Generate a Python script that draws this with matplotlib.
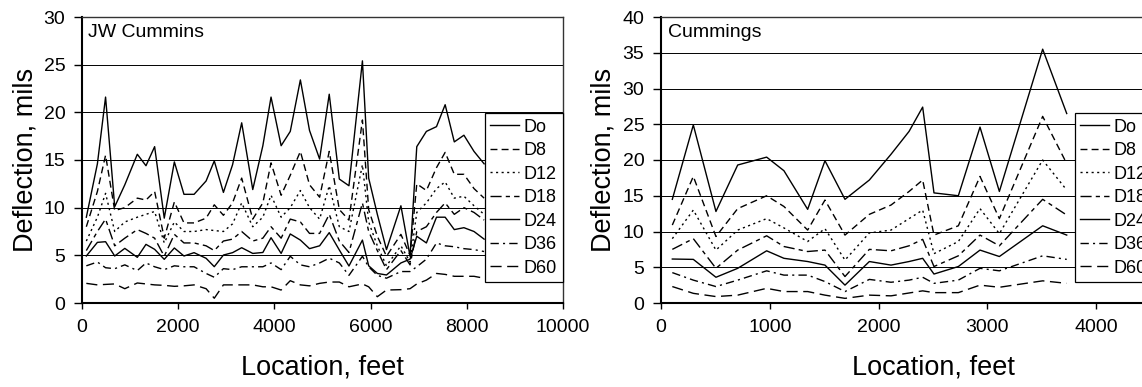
import matplotlib
matplotlib.use('Agg')
import matplotlib.pyplot as plt

plt.rcParams['font.family'] = ['Liberation Sans', 'DejaVu Sans']

names = ['Do', 'D8', 'D12', 'D18', 'D24', 'D36', 'D60']

# JW Cummins
jw_loc = [90, 320, 490, 680, 890, 1150, 1330, 1510, 1710, 1920, 2120, 2330, 2580, 2750,
          2940, 3130, 3320, 3550, 3760, 3930, 4140, 4330, 4540, 4730, 4940, 5140, 5350, 5550,
          5830, 5960, 6140, 6330, 6630, 6820, 6960, 7160, 7370, 7550, 7740, 7940, 8150, 8360]
jw_do = [9.0, 14.6, 21.6, 10.1, 12.4, 15.6, 14.4, 16.4, 8.9, 14.8, 11.4, 11.4, 12.8, 14.9,
         11.6, 14.5, 18.9, 11.9, 16.5, 21.6, 16.5, 18.0, 23.4, 18.1, 15.1, 21.9, 13.0, 12.3,
         25.4, 13.1, 9.3, 5.6, 10.2, 4.9, 16.4, 18.0, 18.5, 20.8, 16.9, 17.6, 15.9, 14.6]
jw_d8 = [8.0, 11.7, 15.5, 9.7, 10.0, 11.0, 10.8, 11.7, 6.8, 10.6, 8.4, 8.4, 8.9, 10.3,
         9.2, 10.5, 13.1, 8.8, 10.5, 14.7, 11.3, 13.4, 15.9, 12.4, 11.1, 15.9, 9.8, 8.7,
         19.2, 9.8, 7.0, 4.9, 7.2, 5.0, 12.5, 11.8, 14.2, 15.8, 13.5, 13.5, 12.0, 11.0]
jw_d12 = [6.5, 9.0, 11.5, 7.5, 8.5, 9.0, 9.3, 9.6, 6.3, 8.5, 7.5, 7.5, 7.7, 7.6,
          7.5, 8.3, 10.5, 8.0, 9.0, 11.3, 9.0, 10.0, 11.8, 10.0, 8.8, 12.3, 8.0, 7.5,
          14.5, 8.5, 6.0, 3.9, 6.0, 4.3, 9.5, 10.5, 12.0, 12.7, 11.0, 11.2, 10.2, 9.3]
jw_d18 = [5.5, 7.5, 8.8, 6.0, 6.8, 7.7, 7.3, 6.8, 4.9, 7.2, 6.3, 6.3, 6.0, 5.5,
          6.5, 6.7, 7.5, 6.5, 6.8, 8.0, 6.8, 8.8, 8.5, 7.3, 7.3, 9.3, 6.5, 5.3,
          10.5, 7.5, 5.5, 3.5, 5.5, 4.0, 7.5, 8.0, 9.5, 10.5, 9.3, 10.0, 9.5, 8.7]
jw_d24 = [4.93, 6.36, 6.43, 4.93, 5.73, 4.79, 6.15, 5.63, 4.58, 5.77, 4.93, 5.28, 4.69, 3.81,
          5.03, 5.28, 5.8, 5.2, 5.3, 6.85, 5.2, 7.24, 6.6, 5.7, 6.0, 7.38, 5.56, 3.88,
          6.6, 3.9, 3.1, 2.94, 4.2, 4.6, 7.0, 6.3, 9.0, 9.0, 7.7, 7.9, 7.5, 6.7]
jw_d36 = [3.9, 4.3, 3.7, 3.6, 4.0, 3.4, 4.2, 3.8, 3.5, 3.9, 3.8, 3.8, 3.1, 2.7,
          3.6, 3.5, 3.8, 3.8, 3.8, 4.2, 3.5, 4.9, 4.0, 3.8, 4.2, 4.7, 4.2, 2.9,
          4.9, 3.8, 2.9, 2.6, 3.3, 3.3, 3.8, 4.6, 6.3, 6.0, 5.9, 5.7, 5.6, 5.4]
jw_d60 = [2.06, 1.9, 1.95, 2.0, 1.5, 2.1, 2.0, 1.9, 1.85, 1.75, 1.8, 1.9, 1.5, 0.5,
          1.9, 1.9, 1.9, 1.9, 1.7, 1.7, 1.36, 2.34, 1.9, 1.8, 2.06, 2.2, 2.2, 1.7,
          2.0, 1.7, 0.66, 1.36, 1.4, 1.5, 2.0, 2.4, 3.1, 3.0, 2.8, 2.8, 2.8, 2.6]

# Cummings
cu_loc = [104, 297, 505, 705, 971, 1130, 1348, 1507, 1691, 1915, 2114, 2280, 2405, 2509,
          2733, 2932, 3110, 3508, 3729]
cu_do = [14.5, 24.9, 12.8, 19.3, 20.4, 18.5, 13.1, 19.9, 14.5, 17.2, 20.8, 24.0, 27.4, 15.4,
         15.0, 24.6, 15.6, 35.5, 26.5]
cu_d8 = [10.9, 17.7, 9.3, 13.2, 15.0, 13.5, 10.2, 14.4, 9.5, 12.4, 13.7, 15.6, 17.2, 9.5,
         10.8, 17.7, 11.8, 26.1, 19.5]
cu_d12 = [9.0, 13.0, 7.4, 10.2, 11.8, 10.5, 8.6, 10.4, 6.0, 9.8, 10.2, 11.8, 13.0, 6.9,
          8.6, 13.2, 9.7, 20.0, 15.8]
cu_d18 = [7.5, 9.0, 4.85, 7.4, 9.4, 7.9, 7.2, 7.4, 3.7, 7.5, 7.3, 8.0, 8.9, 5.1,
          6.6, 9.5, 8.0, 14.5, 12.3]
cu_d24 = [6.15, 6.1, 3.6, 4.85, 7.3, 6.25, 5.8, 5.3, 2.5, 5.8, 5.3, 5.8, 6.25, 4.05,
          5.1, 7.4, 6.5, 10.8, 9.5]
cu_d36 = [4.25, 3.2, 2.3, 3.2, 4.5, 3.9, 3.9, 3.0, 1.6, 3.3, 2.9, 3.2, 3.6, 2.75,
          3.2, 4.85, 4.5, 6.6, 6.1]
cu_d60 = [2.3, 1.35, 0.9, 1.1, 2.05, 1.6, 1.6, 1.1, 0.65, 1.1, 1.0, 1.4, 1.7, 1.45,
          1.45, 2.5, 2.2, 3.1, 2.75]

styles = ['-', (0, (5, 3)), (0, (1.5, 2.5)), (0, (8, 3, 3, 3)), '-', (0, (6, 3, 1.5, 3)), (0, (8, 4))]

W, H = 1142, 387
fig = plt.figure(figsize=(W / 100, H / 100), dpi=100)
ax1 = fig.add_axes([82 / W, 84 / H, 481 / W, 286 / H])
# the right panel runs past the edge of the picture, as in the original
ax2 = fig.add_axes([661 / W, 84 / H, 544 / W, 286 / H])


def draw(ax, loc, series, title, xmax, ymax, xstep, leg_x):
    for s, name, ls in zip(series, names, styles):
        ax.plot(loc, s, color='black', linestyle=ls, linewidth=1.0, label=name)
    ax.set_xlim(0, xmax)
    ax.set_ylim(0, ymax)
    ax.set_xticks(range(0, xmax + 1, xstep))
    ax.set_yticks(range(0, ymax + 1, 5))
    ax.yaxis.grid(True, color='black', linewidth=0.7)
    ax.set_axisbelow(True)
    ax.tick_params(axis='y', direction='out', length=6, width=1, pad=6, labelsize=14)
    ax.tick_params(axis='x', direction='out', length=4.5, width=1, pad=7, labelsize=14)
    for side in ['left', 'bottom']:
        ax.spines[side].set_linewidth(1.5)
    for side in ['top', 'right']:
        ax.spines[side].set_linewidth(1.0)
        ax.spines[side].set_color('#333333')
    ax.set_xlabel('Location, feet', fontsize=19.5, labelpad=13)
    ax.set_ylabel('Deflection, mils', fontsize=19.5, labelpad=4)
    ax.text(0.013, 0.975, title, transform=ax.transAxes, fontsize=14, va='top', ha='left')
    leg = ax.legend(loc='upper left', bbox_to_anchor=(leg_x, 0.664), borderaxespad=0,
                    fontsize=13, frameon=True, fancybox=False, framealpha=1,
                    handlelength=1.6, handletextpad=0.25, labelspacing=0.36, borderpad=0.3)
    leg.get_frame().set_edgecolor('black')
    leg.get_frame().set_linewidth(0.9)


draw(ax1, jw_loc, [jw_do, jw_d8, jw_d12, jw_d18, jw_d24, jw_d36, jw_d60],
     'JW Cummins', 10000, 30, 2000, 0.838)
draw(ax2, cu_loc, [cu_do, cu_d8, cu_d12, cu_d18, cu_d24, cu_d36, cu_d60],
     'Cummings', 5000, 40, 1000, 0.761)

plt.savefig('out.png', dpi=100)
plt.close()
